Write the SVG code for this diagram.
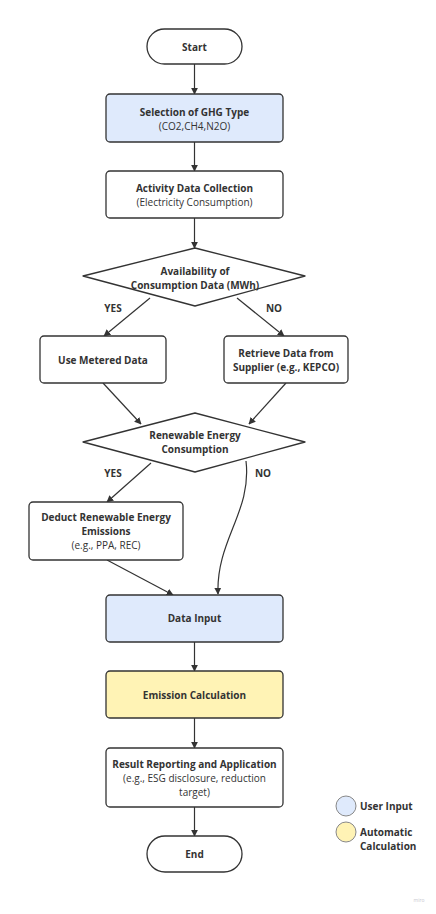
<svg xmlns="http://www.w3.org/2000/svg" width="436" height="914" viewBox="0 0 436 914">
<defs>
<style>
.n{fill:#ffffff;stroke:#333333;stroke-width:1.3}
.b{fill:#dfeafc}
.y{fill:#fff3b5}
.t{font-family:"Open Sans","Noto Sans",sans-serif;font-size:10px;fill:#333333;text-anchor:middle;dominant-baseline:central}
.bold{font-weight:bold}
.c{fill:none;stroke:#333333;stroke-width:1.2}
.lbl{font-family:"Open Sans","Noto Sans",sans-serif;font-size:10px;font-weight:bold;fill:#333333;dominant-baseline:central}
</style>
<marker id="ah" viewBox="0 0 10 10" refX="9" refY="5" markerWidth="7" markerHeight="7" markerUnits="userSpaceOnUse" orient="auto">
<path d="M0,0 L10,5 L0,10 z" fill="#333333"/>
</marker>
</defs>
<rect width="436" height="914" fill="#ffffff"/>
<g id="connectors">
<line class="c" x1="194.5" y1="64" x2="194.5" y2="94" marker-end="url(#ah)"/>
<line class="c" x1="194.5" y1="142" x2="194.5" y2="171" marker-end="url(#ah)"/>
<line class="c" x1="194.5" y1="218" x2="194.5" y2="248" marker-end="url(#ah)"/>
<line class="c" x1="150" y1="298" x2="104" y2="336" marker-end="url(#ah)"/>
<line class="c" x1="237" y1="298" x2="284" y2="336" marker-end="url(#ah)"/>
<line class="c" x1="103" y1="383" x2="141" y2="424" marker-end="url(#ah)"/>
<line class="c" x1="286" y1="383" x2="249" y2="424" marker-end="url(#ah)"/>
<line class="c" x1="151" y1="463" x2="107" y2="502" marker-end="url(#ah)"/>
<path class="c" d="M246,461 C252,512 216,540 218,594" marker-end="url(#ah)"/>
<line class="c" x1="107" y1="560" x2="173" y2="595" marker-end="url(#ah)"/>
<line class="c" x1="194.5" y1="642" x2="194.5" y2="671" marker-end="url(#ah)"/>
<line class="c" x1="194.5" y1="718" x2="194.5" y2="748" marker-end="url(#ah)"/>
<line class="c" x1="194.5" y1="807" x2="194.5" y2="836" marker-end="url(#ah)"/>
<text class="lbl" x="113" y="308" text-anchor="middle">YES</text>
<text class="lbl" x="274" y="308" text-anchor="middle">NO</text>
<text class="lbl" x="113" y="473" text-anchor="middle">YES</text>
<text class="lbl" x="263" y="473" text-anchor="middle">NO</text>
</g>
<g id="start">
<rect class="n" x="147" y="29" width="95" height="35" rx="17.5"/>
<text class="t bold" x="194.5" y="47">Start</text>
</g>
<g id="selection">
<rect class="n b" x="106" y="94" width="177" height="48" rx="4"/>
<text class="t bold" x="194.5" y="112">Selection of GHG Type</text>
<text class="t" x="194.5" y="126">(CO2,CH4,N2O)</text>
</g>
<g id="activity">
<rect class="n" x="106" y="171" width="177" height="47" rx="4"/>
<text class="t bold" x="194.5" y="188">Activity Data Collection</text>
<text class="t" x="194.5" y="202">(Electricity Consumption)</text>
</g>
<g id="availability">
<path class="n" stroke-linejoin="round" d="M195,248 L305,276 L195,306 L83,276 Z"/>
<text class="t bold" x="195" y="271">Availability of</text>
<text class="t bold" x="195" y="285">Consumption Data (MWh)</text>
</g>
<g id="metered">
<rect class="n" x="40" y="336" width="126" height="47" rx="4"/>
<text class="t bold" x="103" y="360">Use Metered Data</text>
</g>
<g id="retrieve">
<rect class="n" x="224" y="336" width="124" height="47" rx="4"/>
<text class="t bold" x="286" y="353">Retrieve Data from</text>
<text class="t bold" x="286" y="367">Supplier (e.g., KEPCO)</text>
</g>
<g id="renewable">
<path class="n" stroke-linejoin="round" d="M195,413 L305,442 L195,472 L83,442 Z"/>
<text class="t bold" x="195" y="435">Renewable Energy</text>
<text class="t bold" x="195" y="449">Consumption</text>
</g>
<g id="deduct">
<rect class="n" x="29" y="502" width="154" height="58" rx="4"/>
<text class="t bold" x="106" y="517">Deduct Renewable Energy</text>
<text class="t bold" x="106" y="531">Emissions</text>
<text class="t" x="106" y="545">(e.g., PPA, REC)</text>
</g>
<g id="datainput">
<rect class="n b" x="106" y="595" width="177" height="47" rx="4"/>
<text class="t bold" x="194.5" y="618">Data Input</text>
</g>
<g id="emission">
<rect class="n y" x="106" y="671" width="177" height="47" rx="4"/>
<text class="t bold" x="194.5" y="695">Emission Calculation</text>
</g>
<g id="result">
<rect class="n" x="106" y="748" width="177" height="59" rx="4"/>
<text class="t bold" x="194.5" y="764">Result Reporting and Application</text>
<text class="t" x="194.5" y="778">(e.g., ESG disclosure, reduction</text>
<text class="t" x="194.5" y="792">target)</text>
</g>
<g id="end">
<rect class="n" x="147" y="836" width="95" height="36" rx="18"/>
<text class="t bold" x="194.5" y="854">End</text>
</g>
<g id="legend">
<circle cx="346" cy="806" r="10" fill="#dfeafc" stroke="#888888" stroke-width="1"/>
<text class="lbl" x="360" y="806">User Input</text>
<circle cx="346" cy="832" r="10" fill="#fff3b5" stroke="#888888" stroke-width="1"/>
<text class="lbl" x="360" y="832">Automatic</text>
<text class="lbl" x="360" y="846">Calculation</text>
</g>
<text x="419" y="900" font-family="'Open Sans',sans-serif" font-size="5" fill="#c8c8d0" text-anchor="middle" dominant-baseline="central">miro</text>
</svg>
